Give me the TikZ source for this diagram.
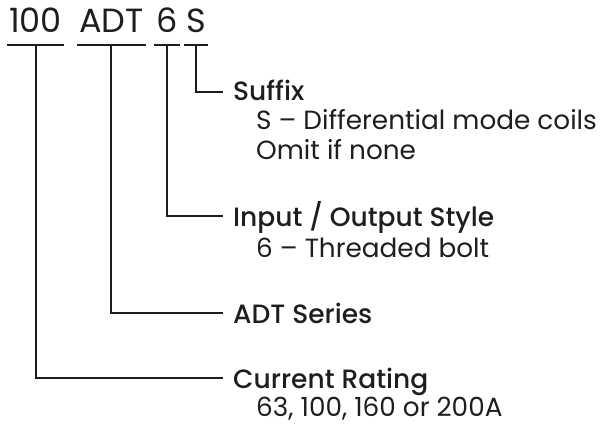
\documentclass[tikz,border=0pt]{standalone}
\usepackage{fontspec}
\setmainfont{Poppins}
\newfontfamily\headfont{Poppins Medium}
\usepackage{tikz}
\usetikzlibrary{positioning}
\definecolor{ink}{HTML}{1E1E1E}
\tikzset{
  code/.style={inner sep=0pt, anchor=base west, text=ink, font=\fontsize{33.5}{34}\selectfont},
  head/.style={inner sep=0pt, anchor=base west, text=ink, font=\headfont\fontsize{26.5}{30}\selectfont},
  detail/.style={inner sep=0pt, anchor=base west, text=ink, font=\fontsize{26.3}{30}\selectfont},
  uline/.style={draw=ink, line width=2.6pt},
  lead/.style={draw=ink, line width=2pt},
}

\begin{document}
\begin{tikzpicture}[x=1pt,y=-1pt]
  \useasboundingbox (0,0) rectangle (602,425);
  \coordinate (ul) at (0,45);

  % part number
  \node[code] (rating) at (9,33) {100};
  \node[code] (series) at (79,33) {ADT};
  \node[code] (term) at (156,33) {6};
  \node[code] (sfx) at (186,33) {S};
  \foreach \n in {rating,series,term,sfx}
    \draw[uline] ([xshift=-2pt]\n.west |- ul) -- ([xshift=2pt]\n.east |- ul);

  % labels
  \node[head] (sfxlbl) at (233,101) {Suffix};
  \node[detail] (sfxa) at ([xshift=23pt,yshift=-29pt]sfxlbl.base west) {S – Differential mode coils};
  \node[detail] (sfxb) at ([yshift=-29pt]sfxa.base west) {Omit if none};

  \node[head] (termlbl) at (233,226) {Input / Output Style};
  \node[detail] (terma) at ([xshift=23pt,yshift=-31pt]termlbl.base west) {6 – Threaded bolt};

  \node[head] (serieslbl) at (233,323) {ADT Series};

  \node[head] (ratinglbl) at (233,388) {Current Rating};
  \node[detail] (ratinga) at ([xshift=23pt,yshift=-28pt]ratinglbl.base west) {63, 100, 160 or 200A};

  % leaders
  \draw[lead] (sfx.south |- ul) |- ([xshift=-10pt,yshift=9pt]sfxlbl.base west);
  \draw[lead] (term.south |- ul) |- ([xshift=-10pt,yshift=10pt]termlbl.base west);
  \draw[lead] (series.south |- ul) |- ([xshift=-10pt,yshift=10pt]serieslbl.base west);
  \draw[lead] (rating.south |- ul) |- ([xshift=-10pt,yshift=10pt]ratinglbl.base west);
\end{tikzpicture}
\end{document}
